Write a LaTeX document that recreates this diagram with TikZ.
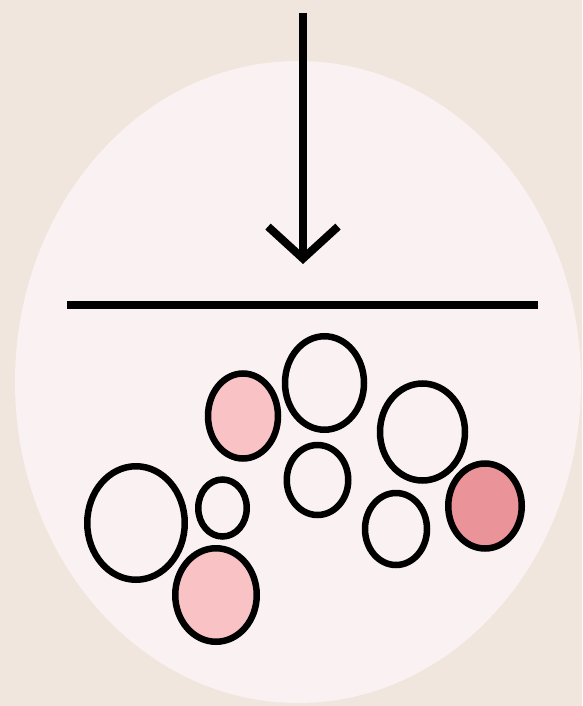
\documentclass[tikz,border=0pt]{standalone}
\usetikzlibrary{shapes.geometric,arrows.meta}
\definecolor{bg}{HTML}{F1E6DD}
\definecolor{disc}{HTML}{FAF2F2}
\definecolor{cellpale}{HTML}{F9C2C5}
\definecolor{celldeep}{HTML}{EA9399}
\begin{document}
\begin{tikzpicture}[x=1pt,y=-1pt,
  cell/.style={ellipse, draw=black, line width=6.5pt, inner sep=0pt, fill=disc},
  pale/.style={cell, fill=cellpale},
  deep/.style={cell, fill=celldeep},
  stroke/.style={draw=black, line width=8.5pt}]
\fill[bg] (0,0) rectangle (582,706);
\useasboundingbox (0,0) rectangle (582,706);
% the dish
\node[ellipse, fill=disc, inner sep=0pt, minimum width=566pt, minimum height=642pt] (dish) at (298,382) {};
% surface line
\coordinate (surfL) at (67,305);
\coordinate (surfR) at (538,305);
\draw[stroke] (surfL) -- (surfR);
% downward arrow
\coordinate (src) at (303,13);
\coordinate (tip) at (303,264);
\draw[stroke, line width=8pt, -{Straight Barb[length=32pt,width=70pt]}] (src) -- (tip);
% cells
\node[pale, minimum width=70pt, minimum height=85pt] (c1) at (243,416) {};
\node[cell, minimum width=97.5pt, minimum height=113.5pt] (c2) at (136,523) {};
\node[cell, minimum width=48.5pt, minimum height=57pt] (c3) at (222.5,508) {};
\node[pale, minimum width=81.5pt, minimum height=93.5pt] (c4) at (216,595) {};
\node[cell, minimum width=79pt, minimum height=93.5pt] (c5) at (324.5,383) {};
\node[cell, minimum width=61.5pt, minimum height=70pt] (c6) at (317.5,480) {};
\node[cell, minimum width=85pt, minimum height=97pt] (c7) at (422.5,432) {};
\node[cell, minimum width=62pt, minimum height=72pt] (c8) at (396,529) {};
\node[deep, minimum width=73.5pt, minimum height=85pt] (c9) at (485,506) {};
\end{tikzpicture}
\end{document}
